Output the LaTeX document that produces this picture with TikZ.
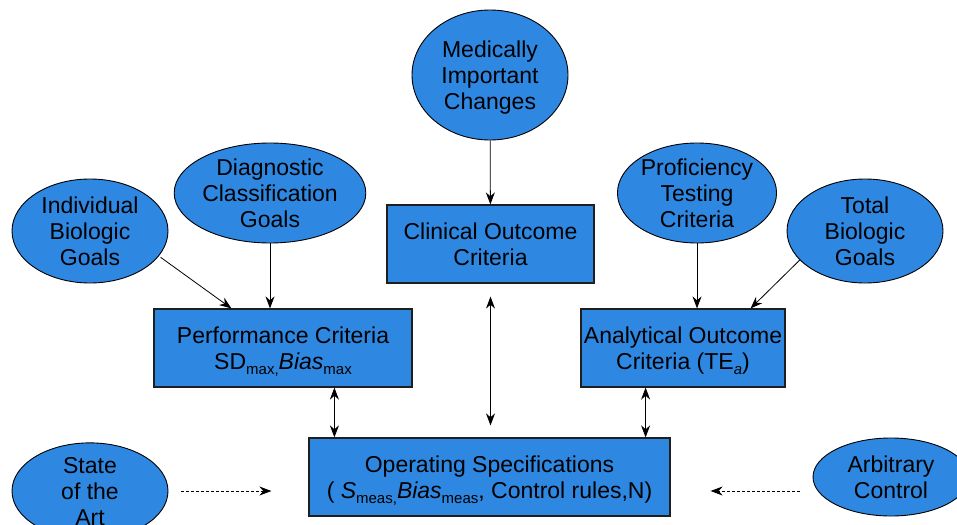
\documentclass[tikz,border=0pt]{standalone}
\usepackage{fontspec}
\setmainfont{Liberation Sans}
\usetikzlibrary{shapes.geometric,arrows.meta,calc}
\definecolor{boxblue}{RGB}{46,136,226}
\definecolor{edgegray}{RGB}{30,30,30}
% lowered small index text, e.g. SD_max
\newcommand{\lowidx}[1]{\raisebox{-5pt}{\fontsize{15}{15}\selectfont #1}}
\begin{document}
\begin{tikzpicture}[x=1pt,y=-1pt,
  every node/.style={font=\fontsize{23}{26}\selectfont, align=center, inner sep=0pt, text depth=0pt},
  goal/.style={ellipse, draw=black, line width=0.9pt, fill=boxblue},
  critbox/.style={rectangle, draw=edgegray, line width=1.2pt, fill=boxblue},
  arr/.style={-{Stealth[length=12pt,width=9pt]}, line width=0.8pt},
  biarr/.style={{Stealth[length=12pt,width=9pt]}-{Stealth[length=12pt,width=9pt]}, line width=0.8pt},
  dasharr/.style={-{Stealth[length=12pt,width=9pt]}, line width=0.8pt, dash pattern=on 3pt off 2pt}]
\useasboundingbox (0,0) rectangle (957,524);

% source ellipses
\node[goal, minimum width=156pt, minimum height=130pt] (med) at (490,75) {Medically\\Important\\Changes};
\node[goal, minimum width=180pt, minimum height=100pt] (diag) at (270,193) {Diagnostic\\Classification\\Goals};
\node[goal, minimum width=156pt, minimum height=104pt] (ind) at (90,231) {Individual\\Biologic\\Goals};
\node[goal, minimum width=158pt, minimum height=100pt] (prof) at (697,193) {Proficiency\\Testing\\Criteria};
\node[goal, minimum width=156pt, minimum height=104pt] (tot) at (865,231) {Total\\Biologic\\Goals};
\node[goal, minimum width=156pt, minimum height=80pt] (state) at (90,491) {State\\of the\\Art};
\node[goal, minimum width=156pt, minimum height=78pt] (arb) at (891,477) {Arbitrary\\Control};

% criteria boxes
\node[critbox, minimum width=207pt, minimum height=78pt] (clin) at (490.5,244) {Clinical Outcome\\Criteria};
\node[critbox, minimum width=258pt, minimum height=78pt] (perf) at (283,348)
  {Performance Criteria\\SD\lowidx{max,}\textit{Bias}\lowidx{max}};
\node[critbox, minimum width=204pt, minimum height=78pt] (ana) at (683,348)
  {Analytical Outcome\\Criteria (TE\lowidx{\textit{a}})};
\node[critbox, minimum width=361pt, minimum height=78pt] (op) at (489.5,477)
  {Operating Specifications\\( \textit{S}\lowidx{meas,}\textit{Bias}\lowidx{meas}, Control rules,N)};

% connectors into the criteria boxes
\draw[arr] (med) -- (clin);
\draw[arr] (diag.south) -- (diag.south |- perf.north);
\draw[arr, shorten <=2pt] (ind.340) -- ($(perf.north west)+(78,0)$);
\draw[arr] (prof.south) -- (prof.south |- ana.north);
\draw[arr] (tot.204) -- ($(ana.north east)+(-35,0)$);

% two-way links with the operating specifications
\coordinate (pl) at ($(op.north west)+(26,0)$);
\coordinate (ar) at ($(op.north east)+(-25,0)$);
\draw[biarr] (pl |- perf.south) -- (pl);
\draw[biarr] (ar |- ana.south) -- (ar);
\draw[biarr, shorten <=13pt, shorten >=12pt] (clin.south) -- (clin.south |- op.north);

% dashed inputs
\draw[dasharr, shorten <=13pt, shorten >=37pt] (state.east) -- (state.east -| op.west);
\draw[dasharr, shorten <=13pt, shorten >=40pt] (arb.west |- state.east) -- (state.east -| op.east);
\end{tikzpicture}
\end{document}
